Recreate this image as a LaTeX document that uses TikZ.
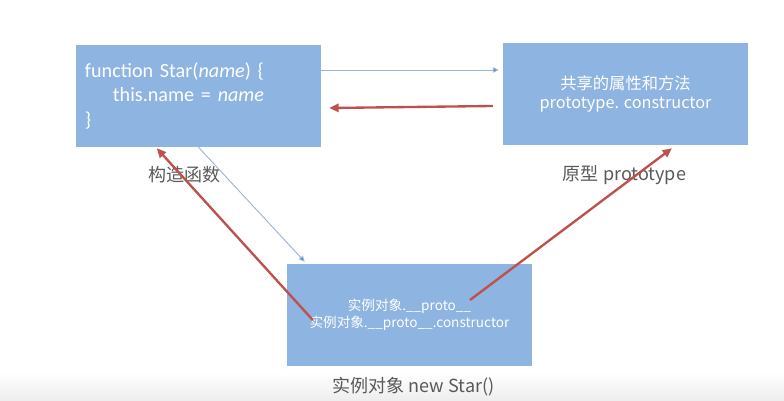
\documentclass[tikz,border=0pt]{standalone}
\usepackage{fontspec}
\setmainfont{Noto Sans CJK SC}
\newfontfamily\codefont{Carlito}
\usetikzlibrary{arrows.meta, positioning, calc}
\definecolor{boxblue}{HTML}{8EB4E2}
\definecolor{linkred}{HTML}{C0504D}
\definecolor{linkblue}{HTML}{9DB5D2}
\definecolor{tipblue}{HTML}{4F81BD}
\definecolor{labelgray}{HTML}{595959}

\begin{document}
\begin{tikzpicture}[x=0.03cm, y=-0.03cm,
    objbox/.style={fill=boxblue, text=white, minimum width=7.35cm, minimum height=3.06cm, inner sep=0pt},
    caption/.style={text=labelgray, font=\fontsize{15.4}{18}\selectfont},
    protolink/.style={-{Triangle[length=8pt, width=7pt]}, line width=2pt, linkred},
    newlink/.style={-{Triangle[length=5pt, width=4.5pt, fill=tipblue]}, line width=0.8pt, linkblue}]
  % Canvas
  \useasboundingbox (0, 0) rectangle (784, 401);
  \shade[top color=white, bottom color=gray!14] (0, 372) rectangle (784, 401);

  % Boxes
  \node[objbox, align=left, text width=6.81cm, font=\codefont\fontsize{17.2}{21.3}\selectfont]
    (ctor) at (198.5, 96)
    {function Star(\textit{name}) \{\\
     \hspace*{0.84cm}this.name = \textit{name}\\
     \}};
  \node[objbox, align=center, font=\fontsize{13.9}{15.4}\selectfont] (proto) at (625.5, 94)
    {共享的属性和方法\\prototype. constructor};
  \node[objbox, align=center, font=\fontsize{11.6}{14.5}\selectfont] (inst) at (409.5, 315)
    {实例对象.\_\_proto\_\_\\实例对象.\_\_proto\_\_.constructor};

  % Captions
  \node[caption] (ctorcap) at (184.5, 175) {构造函数};
  \node[caption] (protocap) at (624.5, 175) {原型 prototype};
  \node[caption] (instcap) at (413.5, 387) {实例对象 new Star()};

  % Links
  \coordinate (fromproto) at ($(inst.center)+(60.5, -15)$);
  \coordinate (fromctor) at ($(inst.west)+(26, 5)$);
  \draw[newlink] ($(ctor.east)+(0, -26)$) -- ($(proto.west)+(-4, -24)$);
  \draw[protolink] ($(proto.west)+(-10, 12)$) -- ($(ctor.east)+(8, 12)$);
  \draw[newlink] (ctor.south) -- ($(inst.north west)+(18, -2)$);
  \draw[protolink] (fromctor) -- ($(ctor.south west)+(81, 1)$);
  \draw[protolink] (fromproto) -- ($(proto.south)+(46.5, 3)$);
\end{tikzpicture}
\end{document}
